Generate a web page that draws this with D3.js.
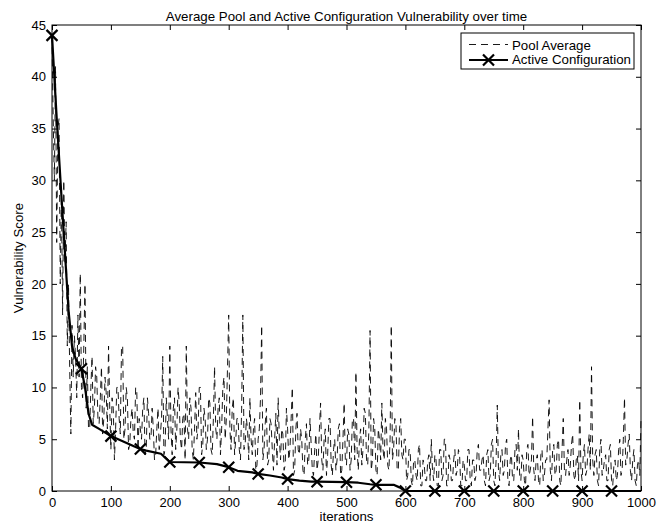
<!DOCTYPE html>
<html>
<head>
<meta charset="utf-8">
<script src="https://cdn.jsdelivr.net/npm/d3@7"></script>
<style>
  body { margin: 0; background: #fff; }
  svg { display: block; font-family: "Liberation Sans", Arial, sans-serif; }
</style>
</head>
<body>
<div id="chart"></div>
<script>
// pool average, sampled every 2 iterations (0..1000), one row = 20 iterations
const poolStep = 2;
const poolValues = [
  44, 36, 30, 41, 24, 35, 36, 20, 29, 17,
  30, 22, 26, 14, 20, 12, 5.5, 16, 11, 15,
  13, 9, 17, 11, 21, 10, 9, 14, 20, 8,
  12, 6, 6, 10, 13, 6.5, 8, 12, 11, 7,
  6.5, 9, 12, 5.5, 7, 11, 9.5, 6, 14, 8,
  4, 9, 8, 3, 6, 10, 10, 7, 5.5, 14,
  14, 5, 6, 10, 9, 4, 4.5, 7, 8, 5.5,
  5, 10, 9.5, 4, 7, 6, 5, 8, 9, 3.5,
  4, 9, 7.5, 5, 5, 8, 6, 3, 3.5, 6,
  8, 4, 5.5, 7, 13, 3.5, 4, 9, 7, 5,
  14, 6, 3.5, 8, 9, 4, 6, 10, 8.5, 5,
  4, 7, 7.5, 3, 14, 6, 5, 9, 8, 4,
  3, 6, 9.5, 5, 6, 10, 10, 3.5, 4.5, 8,
  7, 4, 5, 9, 8.5, 4, 3.5, 7, 12, 6,
  5, 8, 9, 3.5, 6, 10, 11, 5, 7, 12,
  17, 6, 4, 8, 9, 3.5, 5, 7, 7, 4,
  3, 8, 17, 4, 4.5, 7, 6, 3, 9, 5,
  3.5, 6, 7, 2, 2.5, 5, 6, 9, 16, 3,
  4, 6.5, 8, 2.5, 3, 7, 6.5, 4, 2, 5,
  7.5, 2.5, 9, 5, 3, 6, 5.5, 2, 2.5, 8,
  6, 3, 4, 7, 10, 1.5, 2, 6, 7.5, 4,
  3.5, 6, 5, 2, 1.5, 5, 6.5, 2.5, 3, 7,
  4.5, 2, 1.5, 4, 5.5, 2, 3, 6, 8.5, 3,
  2, 5, 6, 1.5, 3.5, 7, 7, 2.5, 1.5, 4,
  5, 2, 3, 6, 6.5, 1.5, 2, 5, 8.5, 3,
  2.5, 6, 5.5, 2, 3, 7, 7, 3, 11.5, 4,
  2, 5, 6, 2.5, 4, 8, 7.5, 3, 2.5, 6,
  15.5, 2, 3, 7, 6, 2, 1.5, 6, 5, 3,
  8.5, 4, 3, 7, 6, 2.5, 2, 5, 16, 3,
  4, 7, 6.5, 2, 2, 6, 7, 3.5, 3, 5,
  5, 1, 1.5, 4, 4, 1, 0.5, 3, 3, 1.5,
  1, 4, 4.5, 0.5, 0.5, 3, 2.5, 1, 1, 3,
  3.5, 1, 5, 2, 1, 3.5, 3, 0.5, 0.5, 4,
  4, 1, 1.5, 5, 5, 0.5, 0.5, 3.5, 3, 1,
  1, 3, 4, 1.5, 2, 4, 3.5, 0.5, 0.5, 3,
  2.5, 1, 1, 4, 4, 1, 0.5, 3, 3, 1,
  1.5, 4, 4.5, 2, 2, 3, 3.5, 1, 0.5, 3.5,
  4, 1, 1.5, 4.5, 5, 1, 0.5, 3, 8.3, 2,
  1, 3.5, 4, 1.5, 2, 4.5, 5, 1, 0.5, 3,
  3.5, 1, 1, 4, 4.5, 2, 6, 1.5, 1, 3.5,
  3, 1, 0.5, 4, 4.5, 1.5, 2, 3, 7.2, 2,
  1, 3, 3.5, 1, 0.5, 3.5, 4, 1, 1.5, 3,
  3, 6, 8.8, 2, 1, 4, 4.5, 1.5, 2, 4.5,
  5, 1, 0.5, 4, 7, 2, 1.5, 3, 4, 1.5,
  2.5, 4.5, 5.5, 1.5, 1, 3, 3.5, 1, 8.8, 2,
  1, 3.5, 4.5, 1.5, 2, 4, 5.5, 2, 12, 3,
  1.5, 3.5, 4, 1, 0.5, 4, 5, 1.5, 2, 3,
  3.5, 1, 1, 4, 4.5, 1, 0.5, 2.5, 3, 1,
  1.5, 4, 5, 1.5, 2, 5, 9, 2.5, 3, 4.5,
  5.5, 2, 1, 3, 4, 1, 0.5, 2.5, 3, 1.5,
  7
];

// active configuration line
const activeIter = [0, 8, 16, 22, 28, 34, 40, 50, 56, 62, 68, 80, 100, 120, 140, 150, 160, 185, 200,
  250, 280, 300, 315, 340, 350, 370, 390, 400, 420, 440, 450, 500, 520, 540, 550, 580, 590, 600,
  650, 700, 750, 800, 850, 900, 950, 1000];
const activeValues = [44, 36, 28.5, 23, 17.5, 14, 12.8, 11.8, 10, 7.5, 6.4, 6.0, 5.3, 4.8, 4.3, 4.05, 3.9, 3.6, 2.8,
  2.75, 2.6, 2.3, 1.95, 1.8, 1.65, 1.5, 1.3, 1.15, 1.0, 0.9, 0.9, 0.85, 0.8, 0.65, 0.6, 0.6, 0.35, 0,
  0, 0, 0, 0, 0, 0, 0, 0];
const markerEvery = 50;

const xTicks = d3.range(0, 1001, 100);
const yTicks = d3.range(0, 46, 5);

const titleText = "Average Pool and Active Configuration Vulnerability over time";
const xLabel = "iterations";
const yLabel = "Vulnerability Score";
const legendLabels = ["Pool Average", "Active Configuration"];

const poolData = poolValues.map((v, i) => ({x: i * poolStep, y: v}));
const activeData = activeIter.map((x, i) => ({x: x, y: activeValues[i]}));
const markerData = activeData.filter(d => d.x % markerEvery === 0 && d.x < 1000);

const W = 670, H = 525;
const margin = {top: 25, right: 29, bottom: 34, left: 52};
const width = W - margin.left - margin.right;
const height = H - margin.top - margin.bottom;

const svg = d3.select("#chart").append("svg")
    .attr("width", W)
    .attr("height", H);

const chart = svg.append("g")
    .attr("transform", `translate(${margin.left},${margin.top})`);

const xScale = d3.scaleLinear().domain([0, 1000]).range([0, width]);
const yScale = d3.scaleLinear().domain([0, 45]).range([height, 0]);

// axes, ticks pointing inward like matlab
chart.append("g")
    .attr("class", "x axis")
    .attr("transform", `translate(0,${height})`)
    .call(d3.axisBottom(xScale).tickValues(xTicks).tickSize(-5).tickPadding(7).tickFormat(d3.format("d")));
chart.append("g")
    .attr("class", "x2 axis")
    .call(d3.axisTop(xScale).tickValues(xTicks).tickSize(-5).tickFormat(""));
chart.append("g")
    .attr("class", "y axis")
    .call(d3.axisLeft(yScale).tickValues(yTicks).tickSize(-5).tickPadding(6).tickFormat(d3.format("d")));
chart.append("g")
    .attr("class", "y2 axis")
    .attr("transform", `translate(${width},0)`)
    .call(d3.axisRight(yScale).tickValues(yTicks).tickSize(-5).tickFormat(""));

chart.selectAll(".axis .domain").remove();
chart.selectAll(".axis line").attr("stroke", "#000");
chart.selectAll(".axis text")
    .attr("fill", "#000")
    .style("font-size", "13px");

chart.append("rect")
    .attr("width", width)
    .attr("height", height)
    .attr("fill", "none")
    .attr("stroke", "#000")
    .attr("stroke-width", 1);

const line = d3.line()
    .x(d => xScale(d.x))
    .y(d => yScale(d.y));

chart.append("path")
    .datum(poolData)
    .attr("d", line)
    .attr("fill", "none")
    .attr("stroke", "#000")
    .attr("stroke-width", 0.9)
    .attr("stroke-dasharray", "7,5");

chart.append("path")
    .datum(activeData)
    .attr("d", line)
    .attr("fill", "none")
    .attr("stroke", "#000")
    .attr("stroke-width", 2.2)
    .attr("stroke-linejoin", "round");

const xMark = s => `M${-s},${-s}L${s},${s}M${-s},${s}L${s},${-s}`;

chart.selectAll(".marker")
    .data(markerData)
    .join("path")
    .attr("class", "marker")
    .attr("transform", d => `translate(${xScale(d.x)},${yScale(d.y)})`)
    .attr("d", xMark(5.5))
    .attr("fill", "none")
    .attr("stroke", "#000")
    .attr("stroke-width", 2.2);

// title and labels
svg.append("text")
    .attr("x", margin.left + width / 2)
    .attr("y", 20.5)
    .attr("text-anchor", "middle")
    .style("font-size", "13.3px")
    .text(titleText);

svg.append("text")
    .attr("x", margin.left + width / 2)
    .attr("y", 521)
    .attr("text-anchor", "middle")
    .style("font-size", "13.3px")
    .text(xLabel);

svg.append("text")
    .attr("transform", `translate(23,${margin.top + height / 2}) rotate(-90)`)
    .attr("text-anchor", "middle")
    .style("font-size", "13.3px")
    .text(yLabel);

// legend
const legend = svg.append("g").attr("transform", "translate(461,33)");
legend.append("rect")
    .attr("width", 173)
    .attr("height", 36)
    .attr("fill", "#fff")
    .attr("stroke", "#000")
    .attr("stroke-width", 1);

legend.append("line")
    .attr("x1", 8).attr("x2", 47)
    .attr("y1", 11.5).attr("y2", 11.5)
    .attr("stroke", "#000")
    .attr("stroke-width", 0.9)
    .attr("stroke-dasharray", "7,5");
legend.append("line")
    .attr("x1", 8).attr("x2", 47)
    .attr("y1", 27).attr("y2", 27)
    .attr("stroke", "#000")
    .attr("stroke-width", 2.2);
legend.append("path")
    .attr("transform", "translate(27.5,27)")
    .attr("d", xMark(5.5))
    .attr("fill", "none")
    .attr("stroke", "#000")
    .attr("stroke-width", 2.2);

legend.selectAll(".legend-text")
    .data(legendLabels)
    .join("text")
    .attr("class", "legend-text")
    .attr("x", 51)
    .attr("y", (d, i) => 16.5 + i * 14.5)
    .style("font-size", "13.3px")
    .text(d => d);
</script>
</body>
</html>
